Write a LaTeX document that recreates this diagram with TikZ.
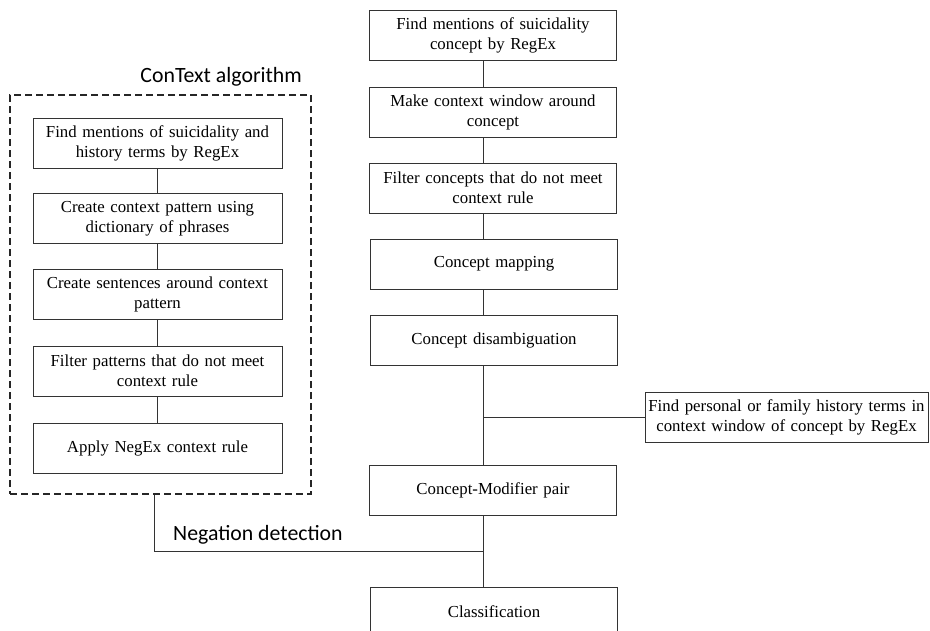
\documentclass[tikz,border=0pt]{standalone}
\usepackage{fontspec}
\setmainfont{Liberation Serif}
\newfontfamily\labfont{Carlito}
\begin{document}
\begin{tikzpicture}[x=1pt,y=-1pt,
  box/.style={draw=black!80, line width=0.9pt, rectangle, align=center, inner sep=2pt,
    font=\fontsize{16.8}{20}\selectfont},
  rbox/.style={box, minimum width=247pt, minimum height=50pt, text width=240pt},
  lbox/.style={box, minimum width=249pt, minimum height=50pt, text width=240pt},
  conn/.style={draw=black!80, line width=0.9pt},
  lab/.style={font=\labfont\fontsize{21.8}{26}\selectfont, inner sep=0pt}]
\useasboundingbox (0,0) rectangle (930,630);
\clip (0,0) rectangle (930,630);
\fill[white] (0,0) rectangle (930,630);
% spine coordinates
\coordinate (spine) at (483,0);
\coordinate (negx) at (154,0);
% right column
\node[rbox] (r1) at (493,35.5) {Find mentions of suicidality\\concept by RegEx};
\node[rbox] (r2) at (493,112) {Make context window around\\concept};
\node[rbox] (r3) at (493,188) {Filter concepts that do not meet\\context rule};
\node[rbox] (r4) at (494,264) {Concept mapping};
\node[rbox] (r5) at (494,340) {Concept disambiguation};
\node[box, minimum width=283pt, minimum height=50pt, text width=283pt, inner sep=0pt] (side) at (786.5,417) {Find personal or family history terms in\\context window of concept by RegEx};
\node[rbox] (cm) at (493,490.5) {Concept-Modifier pair};
\node[rbox] (cls) at (494,612) {Classification};
% left dashed box
\node[draw=black!85, line width=1.8pt, dash pattern=on 7pt off 4pt, minimum width=301pt, minimum height=399pt, inner sep=0pt] (ctx) at (160.5,294.5) {};
\node[lab, anchor=base east] (title) at (302,82) {ConText algorithm};
\node[lbox] (l1) at (157.5,143) {Find mentions of suicidality and\\history terms by RegEx};
\node[lbox] (l2) at (157.5,218.5) {Create context pattern using\\dictionary of phrases};
\node[lbox] (l3) at (157.5,294.5) {Create sentences around context\\pattern};
\node[lbox] (l4) at (157.5,371) {Filter patterns that do not meet\\context rule};
\node[lbox] (l5) at (157.5,448) {Apply NegEx context rule};
% connectors left
\draw[conn] (l1) -- (l2);
\draw[conn] (l2) -- (l3);
\draw[conn] (l3) -- (l4);
\draw[conn] (l4) -- (l5);
% connectors right
\draw[conn] (r1.south -| spine) -- (r2.north -| spine);
\draw[conn] (r2.south -| spine) -- (r3.north -| spine);
\draw[conn] (r3.south -| spine) -- (r4.north -| spine);
\draw[conn] (r4.south -| spine) -- (r5.north -| spine);
\draw[conn] (r5.south -| spine) -- (cm.north -| spine);
\draw[conn] (side.west) -- (side.west -| spine);
\draw[conn] (cm.south -| spine) -- (cls.north -| spine);
% negation detection
\coordinate (jn) at (483,551);
\draw[conn] (ctx.south -| negx) |- (jn);
\node[lab, anchor=base west] (neg) at (173,540) {Negation detection};
\end{tikzpicture}
\end{document}
